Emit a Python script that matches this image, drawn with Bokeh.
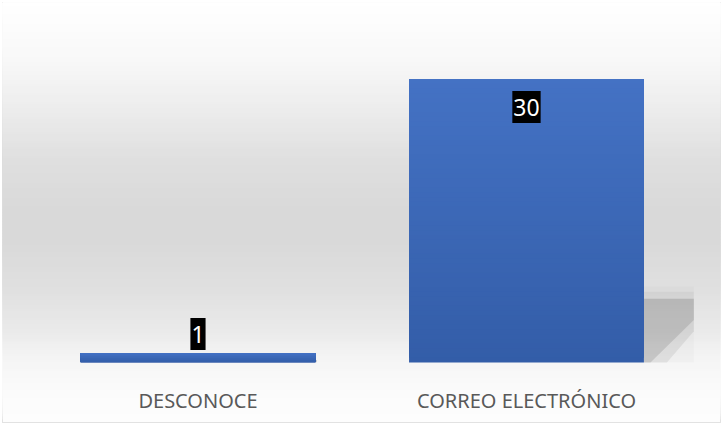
from bokeh.plotting import figure
from bokeh.models import Range1d
from bokeh.core.properties import value
from bokeh.embed import file_html
from bokeh.resources import INLINE

# Data
categories = ["DESCONOCE", "CORREO ELECTRÓNICO"]
counts = [1, 30]

# Styling
BAR_WIDTH = 0.715
BAR_TOP_RGB = (68, 114, 196)
BAR_BOTTOM_RGB = (51, 93, 168)
LABEL_FONT = "Noto Sans"

# Soft grey chart-area gradient: (fraction from top, grey level)
BG_POS = [0.0, 0.138, 0.257, 0.376, 0.495, 0.567, 0.686, 0.781, 0.852, 0.924, 1.0]
BG_LVL = [255, 248, 236, 223, 217, 217, 224, 234, 245, 251, 253]

Y0, Y1 = -6.35, 38.1
X0, X1 = -0.5951, 1.5906

p = figure(width=722, height=424, output_backend="svg", toolbar_location=None,
           x_range=Range1d(X0, X1), y_range=Range1d(Y0, Y1),
           min_border_left=2, min_border_right=2, min_border_top=2, min_border_bottom=2)
p.xaxis.visible = False
p.yaxis.visible = False
p.grid.visible = False
p.border_fill_color = "white"
p.background_fill_color = "white"
p.outline_line_color = "#d9d9d9"
p.outline_line_width = 1


def lerp(a, b, t):
    return a + (b - a) * t


def grey_at(f):
    for k in range(len(BG_POS) - 1):
        if BG_POS[k] <= f <= BG_POS[k + 1]:
            t = (f - BG_POS[k]) / (BG_POS[k + 1] - BG_POS[k])
            return round(lerp(BG_LVL[k], BG_LVL[k + 1], t))
    return BG_LVL[-1]


# Background gradient, painted bottom-up so each band covers the one below
NB = 140
bg_bottom, bg_color = [], []
for k in range(NB):
    yb = Y0 + (Y1 - Y0) * k / NB
    f = 1 - (k + 0.5) / NB
    g = grey_at(f)
    bg_bottom.append(yb)
    bg_color.append("#%02x%02x%02x" % (g, g, g))
p.quad(left=X0, right=X1, bottom=bg_bottom, top=Y1, fill_color=bg_color, line_color=None)

xs = list(range(len(categories)))
vmax = max(counts)

# Soft perspective shadow to the lower right of each column
for i, v in zip(xs, counts):
    r = i + BAR_WIDTH / 2
    w = 0.152 * v / vmax
    d1 = 0.07 * v / vmax
    d2 = 0.02 * v / vmax
    p.patch([r, r + w, r + w, r + w, r], [0.268 * v, 0.268 * v, 0.25 * v, 0, 0],
            fill_color="black", fill_alpha=0.02, line_color=None)
    p.patch([r, r + w, r + w, r], [0.25 * v, 0.25 * v, 0.225 * v, 0.225 * v],
            fill_color="black", fill_alpha=0.04, line_color=None)
    p.patch([r, r + w, r + w, r + d1, r], [0.225 * v, 0.225 * v, 0.11 * v, 0, 0],
            fill_color="black", fill_alpha=0.07, line_color=None)
    p.patch([r, r + w, r + w, r + d2, r], [0.225 * v, 0.225 * v, 0.15 * v, 0, 0],
            fill_color="black", fill_alpha=0.11, line_color=None)

# Columns with a vertical blue gradient
NS = 60
for i, v in zip(xs, counts):
    bottoms, colors = [], []
    for k in range(NS):
        t = (k + 0.5) / NS
        rgb = tuple(round(lerp(BAR_BOTTOM_RGB[c], BAR_TOP_RGB[c], t)) for c in range(3))
        bottoms.append(v * k / NS)
        colors.append("#%02x%02x%02x" % rgb)
    p.vbar(x=[i] * NS, bottom=bottoms, top=v, width=BAR_WIDTH,
           fill_color=colors, line_color=None)

# Value labels: inside the top of tall columns, above short ones
lab_x, lab_y, lab_txt, lab_off = [], [], [], []
for i, v in zip(xs, counts):
    lab_x.append(i)
    lab_y.append(v)
    lab_txt.append(str(v))
    lab_off.append(28 if v > 0.15 * vmax else -19)
p.text(x=lab_x, y=lab_y, text=lab_txt, y_offset=lab_off,
       text_font=value(LABEL_FONT), text_font_size="23px", text_color="white",
       text_align="center", text_baseline="middle",
       background_fill_color="black",
       padding=dict(left=1, right=1, top=8, bottom=7))

# Category labels under the baseline
p.text(x=xs, y=[0] * len(xs), text=categories, y_offset=38,
       text_font=value(LABEL_FONT), text_font_size="20px", text_color="#595959",
       text_align="center", text_baseline="alphabetic")

open("out.html", "w").write(file_html(p, INLINE))
